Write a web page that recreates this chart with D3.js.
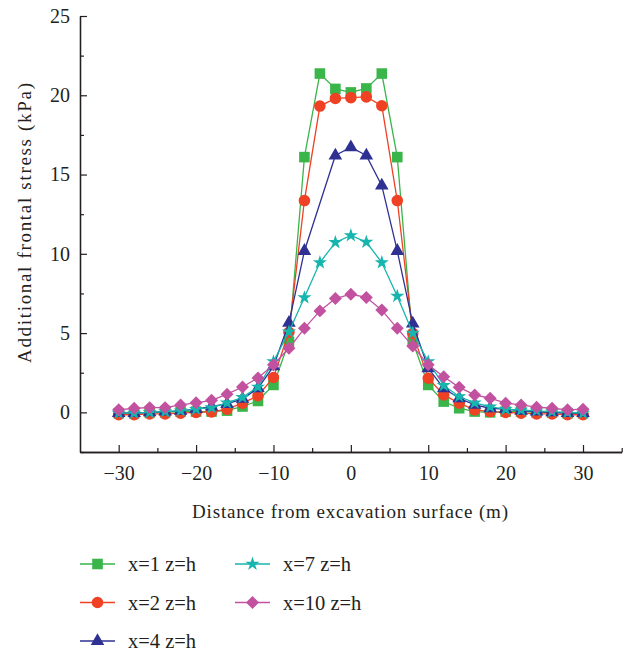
<!DOCTYPE html>
<html>
<head>
<meta charset="utf-8">
<script src="https://cdn.jsdelivr.net/npm/d3@7"></script>
<style>
  html, body { margin: 0; padding: 0; background: #fff; }
  svg { display: block; font-family: "Liberation Serif", "DejaVu Serif", serif; }
</style>
</head>
<body>
<svg id="chart" width="630" height="654"></svg>
<script>
// Distance from the excavation surface (m)
const distance = [-30,-28,-26,-24,-22,-20,-18,-16,-14,-12,-10,-8,-6,-4,-2,0,2,4,6,8,10,12,14,16,18,20,22,24,26,28,30];

// Additional frontal stress (kPa) at each distance; null = no reading
const stressX1 = [-0.05,-0.05,0,0,0.05,0.05,0.05,0.11,0.37,0.72,1.73,4.45,16.1,21.37,20.4,20.18,20.43,21.37,16.1,4.45,1.73,0.68,0.26,0.05,0,0.05,0.05,0,0,-0.05,-0.05];
const stressX2 = [-0.15,-0.15,-0.1,-0.1,-0.05,0,0.03,0.2,0.58,1.05,2.2,5.05,13.36,19.32,19.8,19.85,19.9,19.34,13.36,4.98,2.15,1.1,0.58,0.16,0.05,0,-0.05,-0.1,-0.1,-0.15,-0.15];
const stressX4 = [-0.05,-0.05,0,0.05,0.1,0.2,0.37,0.53,0.85,1.52,2.9,5.65,10.18,null,16.2,16.72,16.2,14.3,10.18,5.6,2.78,1.52,0.89,0.47,0.26,0.2,0.1,0.05,0,-0.05,-0.05];
const stressX7 = [-0.05,-0.05,0,0.05,0.1,0.2,0.3,0.6,0.95,1.6,3.2,5.08,7.24,9.45,10.72,11.16,10.74,9.45,7.33,5.0,3.2,1.7,1.0,0.6,0.35,0.2,0.15,0.1,0.05,0,-0.05];
const stressX10 = [0.16,0.26,0.3,0.3,0.47,0.6,0.76,1.15,1.6,2.17,3.0,4.04,5.3,6.4,7.18,7.45,7.25,6.45,5.3,4.18,3.0,2.25,1.58,1.1,0.89,0.58,0.47,0.33,0.26,0.16,0.2];

const seriesNames = ["x=1 z=h", "x=2 z=h", "x=4 z=h", "x=7 z=h", "x=10 z=h"];
const seriesValues = [stressX1, stressX2, stressX4, stressX7, stressX10];
const seriesColors = ["#39b54a", "#ef4123", "#2e3192", "#16b5ae", "#c2529f"];

const xMajorTicks = [-30, -20, -10, 0, 10, 20, 30];
const xMinorTicks = [-25, -15, -5, 5, 15, 25, 35];
const yMajorTicks = [0, 5, 10, 15, 20, 25];
const yMinorTicks = [-2.5, 2.5, 7.5, 12.5, 17.5, 22.5];

const svg = d3.select("#chart");
const ink = "#231f20";

const x = d3.scaleLinear().domain([-35, 35]).range([80, 621.7]);
const y = d3.scaleLinear().domain([-2.5, 25]).range([452, 16]);

// Marker shapes per series
const symbols = [
  { type: d3.symbolSquare, size: 112, rotate: 0 },
  { type: d3.symbolCircle, size: 105, rotate: 0 },
  { type: d3.symbolTriangle, size: 80, rotate: 0 },
  { type: d3.symbolStar, size: 62, rotate: 0 },
  { type: d3.symbolSquare, size: 84, rotate: 45 }
];

// Axes (ticks pointing inward)
function styleAxis(g) {
  g.selectAll("path.domain").attr("stroke", ink).attr("stroke-width", 1.3);
  g.selectAll(".tick line").attr("stroke", ink).attr("stroke-width", 1.2);
  g.selectAll(".tick text").attr("fill", ink).attr("font-size", 20)
    .attr("font-family", "Liberation Serif, DejaVu Serif, serif");
}

const xAxisG = svg.append("g").attr("transform", `translate(0,${y(-2.5)})`)
  .call(d3.axisBottom(x).tickValues(xMajorTicks).tickSize(-7).tickSizeOuter(0).tickPadding(14)
    .tickFormat(d3.format("d")));
styleAxis(xAxisG);
const xMinorG = svg.append("g").attr("transform", `translate(0,${y(-2.5)})`)
  .call(d3.axisBottom(x).tickValues(xMinorTicks).tickSize(-4).tickSizeOuter(0).tickFormat(""));
styleAxis(xMinorG);

const yAxisG = svg.append("g").attr("transform", `translate(${x(-35)},0)`)
  .call(d3.axisLeft(y).tickValues(yMajorTicks).tickSize(-7).tickSizeOuter(0).tickPadding(10)
    .tickFormat(d3.format("d")));
styleAxis(yAxisG);
const yMinorG = svg.append("g").attr("transform", `translate(${x(-35)},0)`)
  .call(d3.axisLeft(y).tickValues(yMinorTicks).tickSize(-4).tickSizeOuter(0).tickFormat(""));
styleAxis(yMinorG);

// Axis titles
svg.append("text")
  .attr("x", 350).attr("y", 518)
  .attr("text-anchor", "middle").attr("font-size", 19).attr("fill", ink)
  .attr("textLength", 316).attr("lengthAdjust", "spacing")
  .text("Distance from excavation surface (m)");

svg.append("text")
  .attr("transform", "translate(31,223) rotate(-90)")
  .attr("text-anchor", "middle").attr("font-size", 19).attr("fill", ink)
  .attr("textLength", 280).attr("lengthAdjust", "spacing")
  .text("Additional frontal stress (kPa)");

// Series lines and markers
const line = d3.line().x(d => x(d[0])).y(d => y(d[1]));

seriesValues.forEach((vals, i) => {
  const pts = distance.map((d, k) => [d, vals[k]]).filter(p => p[1] !== null);
  const g = svg.append("g");
  g.append("path").datum(pts)
    .attr("d", line).attr("fill", "none")
    .attr("stroke", seriesColors[i]).attr("stroke-width", 1.3);
  const sym = d3.symbol().type(symbols[i].type).size(symbols[i].size);
  g.selectAll("path.mk").data(pts).enter().append("path")
    .attr("class", "mk")
    .attr("d", sym)
    .attr("transform", p => `translate(${x(p[0])},${y(p[1])}) rotate(${symbols[i].rotate})`)
    .attr("fill", seriesColors[i]);
});

// Legend
const legendPos = [
  [80, 564], [80, 602.5], [80, 641],
  [235, 564], [235, 602.5]
];
seriesNames.forEach((name, i) => {
  const [lx, ly] = legendPos[i];
  const g = svg.append("g").attr("transform", `translate(${lx},${ly})`);
  g.append("line").attr("x1", 0).attr("x2", 35).attr("y1", 0).attr("y2", 0)
    .attr("stroke", seriesColors[i]).attr("stroke-width", 1.3);
  g.append("path")
    .attr("d", d3.symbol().type(symbols[i].type).size(symbols[i].size)())
    .attr("transform", `translate(17.5,0) rotate(${symbols[i].rotate})`)
    .attr("fill", seriesColors[i]);
  g.append("text").attr("x", 48).attr("y", 7)
    .attr("font-size", 20.5).attr("fill", ink).text(name);
});
</script>
</body>
</html>
